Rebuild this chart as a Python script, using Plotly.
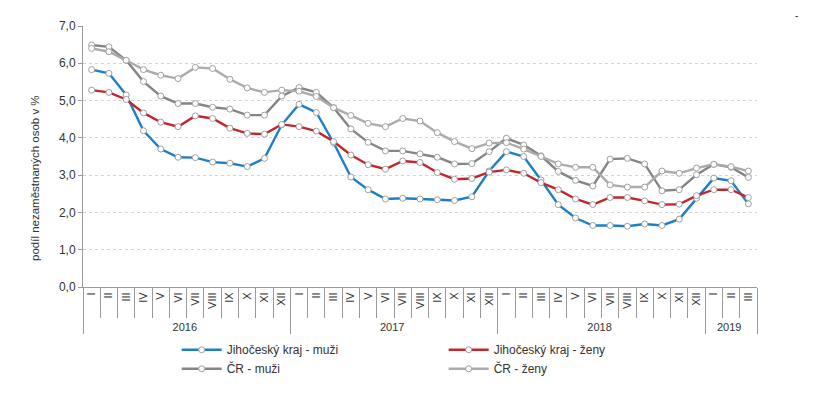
import plotly.graph_objects as go

months = ["I", "II", "III", "IV", "V", "VI", "VII", "VIII", "IX", "X", "XI", "XII"]
years = ["2016"] * 12 + ["2017"] * 12 + ["2018"] * 12 + ["2019"] * 3
month_labels = months * 3 + months[:3]

jk_muzi = [5.83, 5.73, 5.15, 4.19, 3.70, 3.48, 3.47, 3.35, 3.32, 3.23, 3.45, 4.35,
           4.90, 4.68, 3.87, 2.95, 2.61, 2.36, 2.38, 2.36, 2.34, 2.32, 2.42,
           3.11, 3.63, 3.50, 2.87, 2.21, 1.85, 1.65, 1.65, 1.63, 1.69, 1.65, 1.82,
           2.38, 2.92, 2.85, 2.23]
jk_zeny = [5.28, 5.22, 5.03, 4.67, 4.42, 4.30, 4.59, 4.52, 4.26, 4.12, 4.10, 4.36,
           4.30, 4.18, 3.90, 3.54, 3.28, 3.16, 3.38, 3.34, 3.07, 2.89, 2.91,
           3.08, 3.14, 3.05, 2.80, 2.61, 2.36, 2.21, 2.40, 2.40, 2.31, 2.21, 2.22,
           2.45, 2.61, 2.61, 2.40]
cr_muzi = [6.49, 6.44, 6.08, 5.51, 5.12, 4.92, 4.92, 4.82, 4.77, 4.61, 4.61, 5.12,
           5.35, 5.22, 4.81, 4.24, 3.88, 3.65, 3.65, 3.57, 3.48, 3.30, 3.31,
           3.63, 3.99, 3.81, 3.52, 3.10, 2.86, 2.71, 3.43, 3.45, 3.30, 2.58, 2.61,
           3.01, 3.29, 3.21, 2.94]
cr_zeny = [6.40, 6.31, 6.08, 5.83, 5.68, 5.59, 5.89, 5.86, 5.57, 5.34, 5.22, 5.28,
           5.25, 5.11, 4.81, 4.60, 4.39, 4.30, 4.52, 4.45, 4.14, 3.90, 3.71,
           3.86, 3.87, 3.70, 3.50, 3.30, 3.21, 3.21, 2.74, 2.68, 2.68, 3.11, 3.05,
           3.19, 3.29, 3.23, 3.11]

series = [
    ("Jihočeský kraj - muži", jk_muzi, "#1f7fc4"),
    ("Jihočeský kraj - ženy", jk_zeny, "#c1272d"),
    ("ČR - muži", cr_muzi, "#858585"),
    ("ČR - ženy", cr_zeny, "#ababab"),
]

fig = go.Figure()
for name, vals, col in series:
    fig.add_trace(go.Scatter(
        x=[years, month_labels], y=vals, name=name, mode="lines+markers",
        line=dict(color=col, width=2.4),
        marker=dict(symbol="circle", size=6, color="white",
                    line=dict(color="#a0a0a0", width=1)),
    ))

fig.update_layout(
    width=815, height=401,
    margin=dict(l=75, r=66, t=18, b=122, autoexpand=False),
    paper_bgcolor="white", plot_bgcolor="white",
    separators=", ",
    font=dict(family="Liberation Sans, Arial, sans-serif", size=11, color="#333333"),
    showlegend=True,
    legend=dict(orientation="h", x=0.139, xanchor="left", y=-0.185, yanchor="top",
                entrywidth=212, entrywidthmode="pixels",
                font=dict(size=12, color="#333333"), tracegroupgap=0,
                itemwidth=40),
)
fig.update_xaxes(
    type="multicategory", tickangle=-90, automargin=False,
    range=[-0.5, len(month_labels) - 0.5],
    showline=True, linecolor="#9a9a9a", linewidth=1,
    ticks="outside", tickson="boundaries", ticklen=30, tickcolor="#9a9a9a",
    showdividers=True, dividercolor="#9a9a9a", dividerwidth=1,
    tickfont=dict(size=11, color="#333333"), showgrid=False,
)
fig.update_yaxes(
    range=[0, 7], dtick=1, tickformat=".1f", automargin=False,
    showline=True, linecolor="#9a9a9a", linewidth=1,
    ticks="outside", ticklen=4, tickcolor="#9a9a9a",
    showgrid=True, gridcolor="#d4d4d4", griddash="dot", gridwidth=1,
    zeroline=False,
    tickfont=dict(size=12, color="#333333"),
)
fig.add_annotation(text="podíl nezaměstnaných osob v %", textangle=-90,
                   xref="paper", yref="paper", x=(35 - 83) / 674, y=(287 - 178) / 261,
                   xanchor="center", yanchor="middle", showarrow=False,
                   font=dict(size=11.5, color="#333333"))
fig.add_annotation(text="-", xref="paper", yref="paper", x=(800 - 83) / 674,
                   y=(287 - 8) / 261, showarrow=False,
                   font=dict(size=10, color="#333333"))

fig.write_html("out.html")
